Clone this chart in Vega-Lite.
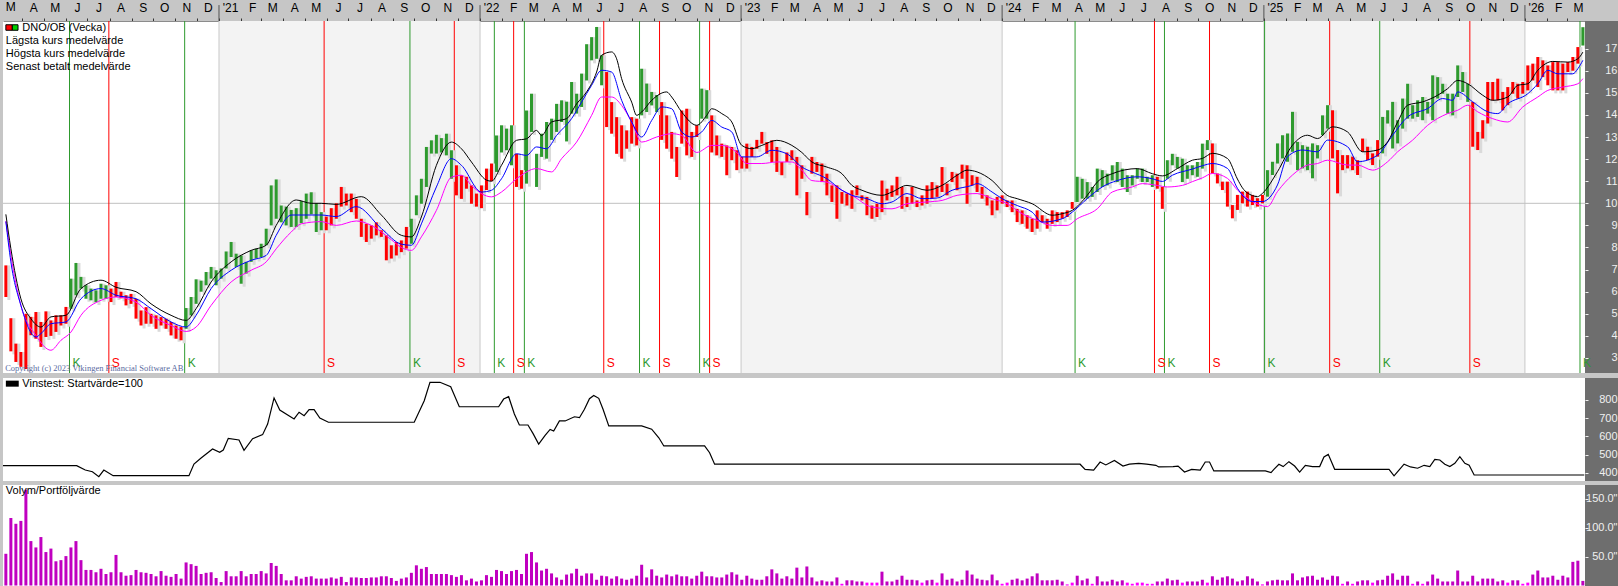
{
"$schema": "https://vega.github.io/schema/vega-lite/v6.json",
"background": "#c6c6c6",
"padding": {"left": 0, "top": 0, "right": 0, "bottom": 3},
"spacing": 3,
"config": {"view": {"stroke": null}, "font": "Liberation Sans"},
"resolve": {"scale": {"x": "independent", "y": "independent", "color": "independent"}},
"datasets": {
"bars": [
{"d":"2020-03-09","lo":5.76,"hi":7.19,"c":"r","v":55,"mh":9.5,"mc":9.17,"ml":9.2},
{"d":"2020-03-16","lo":3.3,"hi":4.8,"c":"r","v":117,"mh":7.95,"mc":7.35,"ml":7.65},
{"d":"2020-03-23","lo":2.82,"hi":3.65,"c":"r","v":107},
{"d":"2020-03-30","lo":2.6,"hi":3.27,"c":"r","v":112,"mh":5.68,"mc":5.38,"ml":5.38},
{"d":"2020-04-06","lo":2.5,"hi":5.0,"c":"r","v":166},
{"d":"2020-04-13","lo":4.03,"hi":4.86,"c":"r","v":77,"mh":4.78},
{"d":"2020-04-20","lo":3.87,"hi":5.08,"c":"r","v":66,"mc":3.95,"ml":4.02},
{"d":"2020-04-27","lo":3.5,"hi":4.63,"c":"r","v":84,"mh":4.4,"mc":4.1},
{"d":"2020-05-04","lo":3.95,"hi":5.11,"c":"r","v":58},
{"d":"2020-05-11","lo":4.0,"hi":4.7,"c":"r","v":64,"mh":4.86,"mc":4.55,"ml":3.35},
{"d":"2020-05-18","lo":4.18,"hi":4.93,"c":"r","v":42},
{"d":"2020-05-25","lo":4.47,"hi":4.93,"c":"r","v":44,"ml":3.8},
{"d":"2020-06-01","lo":4.55,"hi":5.31,"c":"r","v":51,"mh":4.93,"mc":4.63},
{"d":"2020-06-08","lo":5.23,"hi":6.59,"c":"g","v":66,"ml":4.17},
{"d":"2020-06-15","lo":5.84,"hi":7.3,"c":"g","v":77},
{"d":"2020-06-22","lo":6.14,"hi":6.67,"c":"g","v":44,"mh":6.14,"mc":5.68,"ml":4.93},
{"d":"2020-06-29","lo":5.68,"hi":6.29,"c":"g","v":27},
{"d":"2020-07-06","lo":5.61,"hi":6.14,"c":"g","v":27},
{"d":"2020-07-13","lo":5.53,"hi":6.06,"c":"g","v":23},
{"d":"2020-07-20","lo":5.68,"hi":6.36,"c":"g","v":29,"mh":6.52,"mc":6.14,"ml":5.61},
{"d":"2020-07-27","lo":5.68,"hi":6.29,"c":"g","v":20},
{"d":"2020-08-03","lo":5.53,"hi":6.14,"c":"r","v":23},
{"d":"2020-08-10","lo":5.76,"hi":6.44,"c":"r","v":53,"mh":6.2,"mc":5.84,"ml":5.76},
{"d":"2020-08-17","lo":5.7,"hi":6.0,"c":"r","v":23},
{"d":"2020-08-24","lo":5.38,"hi":5.84,"c":"r","v":17},
{"d":"2020-08-31","lo":5.45,"hi":5.9,"c":"r","v":18},
{"d":"2020-09-07","lo":4.78,"hi":5.68,"c":"r","v":27,"mh":6.0,"mc":5.68,"ml":5.53},
{"d":"2020-09-14","lo":4.47,"hi":5.15,"c":"r","v":23},
{"d":"2020-09-21","lo":4.55,"hi":5.3,"c":"r","v":22},
{"d":"2020-09-28","lo":4.55,"hi":5.0,"c":"r","v":20,"mh":5.45,"mc":5.23,"ml":4.93},
{"d":"2020-10-05","lo":4.32,"hi":4.93,"c":"r","v":16},
{"d":"2020-10-12","lo":4.47,"hi":4.85,"c":"r","v":25},
{"d":"2020-10-19","lo":4.32,"hi":4.78,"c":"r","v":17},
{"d":"2020-10-26","lo":4.02,"hi":4.63,"c":"r","v":15,"mh":4.93,"mc":4.63,"ml":4.47},
{"d":"2020-11-02","lo":3.87,"hi":4.47,"c":"r","v":20},
{"d":"2020-11-09","lo":3.8,"hi":4.4,"c":"r","v":12},
{"d":"2020-11-16","lo":4.32,"hi":5.26,"c":"g","v":40,"mh":4.7,"mc":4.4,"ml":4.2},
{"d":"2020-11-23","lo":4.93,"hi":5.76,"c":"g","v":37},
{"d":"2020-11-30","lo":5.45,"hi":6.56,"c":"g","v":34,"mh":5.23,"mc":4.93,"ml":4.4},
{"d":"2020-12-07","lo":6.0,"hi":6.5,"c":"g","v":20},
{"d":"2020-12-14","lo":6.29,"hi":6.89,"c":"g","v":22},
{"d":"2020-12-21","lo":6.59,"hi":7.12,"c":"g","v":23,"mh":6.44,"mc":6.14,"ml":5.38},
{"d":"2020-12-28","lo":6.29,"hi":6.97,"c":"g","v":13},
{"d":"2021-01-04","lo":6.59,"hi":7.05,"c":"g","v":6},
{"d":"2021-01-11","lo":7.05,"hi":7.82,"c":"g","v":25},
{"d":"2021-01-18","lo":7.57,"hi":8.25,"c":"g","v":16,"mh":7.35,"mc":6.97,"ml":6.44},
{"d":"2021-01-25","lo":7.12,"hi":7.72,"c":"g","v":16},
{"d":"2021-02-01","lo":6.36,"hi":7.64,"c":"g","v":25},
{"d":"2021-02-08","lo":6.82,"hi":7.35,"c":"g","v":16},
{"d":"2021-02-15","lo":7.35,"hi":7.87,"c":"g","v":20,"mh":7.87,"mc":7.42,"ml":6.97},
{"d":"2021-02-22","lo":7.5,"hi":7.94,"c":"g","v":20},
{"d":"2021-03-01","lo":7.57,"hi":8.17,"c":"g","v":25},
{"d":"2021-03-08","lo":8.1,"hi":8.85,"c":"g","v":21,"mh":8.1,"mc":7.64,"ml":7.35},
{"d":"2021-03-15","lo":9.0,"hi":10.81,"c":"g","v":39},
{"d":"2021-03-22","lo":9.3,"hi":11.08,"c":"g","v":34,"mh":9.0,"mc":8.55,"ml":7.94},
{"d":"2021-03-29","lo":9.14,"hi":9.9,"c":"g","v":20},
{"d":"2021-04-05","lo":9.0,"hi":9.85,"c":"g","v":9},
{"d":"2021-04-12","lo":8.93,"hi":9.7,"c":"g","v":9,"mc":9.47,"ml":8.7},
{"d":"2021-04-19","lo":8.93,"hi":9.78,"c":"g","v":16,"mh":10.15},
{"d":"2021-04-26","lo":9.1,"hi":10.1,"c":"g","v":12,"mc":9.47,"ml":9.07},
{"d":"2021-05-03","lo":9.3,"hi":10.44,"c":"g","v":15},
{"d":"2021-05-10","lo":9.5,"hi":10.5,"c":"g","v":16,"mh":10.0},
{"d":"2021-05-17","lo":8.7,"hi":10.0,"c":"g","v":12},
{"d":"2021-05-24","lo":8.78,"hi":9.6,"c":"g","v":12,"mh":10.0,"mc":9.47,"ml":9.17},
{"d":"2021-05-31","lo":8.78,"hi":9.4,"c":"r","v":12},
{"d":"2021-06-07","lo":9.0,"hi":9.78,"c":"r","v":14},
{"d":"2021-06-14","lo":9.3,"hi":10.0,"c":"r","v":12,"mh":9.95,"mc":9.4,"ml":9.0},
{"d":"2021-06-21","lo":9.85,"hi":10.74,"c":"r","v":15},
{"d":"2021-06-28","lo":9.9,"hi":10.44,"c":"r","v":6},
{"d":"2021-07-05","lo":9.6,"hi":10.44,"c":"r","v":14},
{"d":"2021-07-12","lo":9.3,"hi":10.2,"c":"r","v":14,"mc":9.85,"ml":9.2},
{"d":"2021-07-19","lo":8.48,"hi":9.3,"c":"r","v":13,"mh":10.3},
{"d":"2021-07-26","lo":8.25,"hi":9.07,"c":"r","v":13},
{"d":"2021-08-02","lo":8.4,"hi":9.0,"c":"r","v":14,"ml":9.0},
{"d":"2021-08-09","lo":8.55,"hi":9.14,"c":"r","v":14},
{"d":"2021-08-16","lo":8.48,"hi":8.78,"c":"r","v":16,"mh":9.47,"mc":8.86},
{"d":"2021-08-23","lo":7.42,"hi":8.55,"c":"r","v":16},
{"d":"2021-08-30","lo":7.5,"hi":8.1,"c":"r","v":13,"ml":8.35},
{"d":"2021-09-06","lo":7.64,"hi":8.25,"c":"r","v":8},
{"d":"2021-09-13","lo":7.79,"hi":8.32,"c":"r","v":12,"mh":8.55,"mc":8.15,"ml":8.0},
{"d":"2021-09-20","lo":7.95,"hi":8.93,"c":"r","v":14},
{"d":"2021-09-27","lo":8.17,"hi":9.3,"c":"g","v":22,"mh":8.48,"mc":8.1,"ml":7.87},
{"d":"2021-10-04","lo":9.46,"hi":10.36,"c":"g","v":35},
{"d":"2021-10-11","lo":9.98,"hi":11.11,"c":"g","v":29,"mh":9.38,"mc":9.07,"ml":8.48},
{"d":"2021-10-18","lo":10.74,"hi":12.55,"c":"g","v":32},
{"d":"2021-10-25","lo":12.25,"hi":12.85,"c":"g","v":20},
{"d":"2021-11-01","lo":12.25,"hi":13.1,"c":"g","v":20,"mh":11.72,"mc":10.74,"ml":9.68},
{"d":"2021-11-08","lo":12.3,"hi":12.95,"c":"g","v":20},
{"d":"2021-11-15","lo":12.17,"hi":13.15,"c":"g","v":20},
{"d":"2021-11-22","lo":11.11,"hi":12.4,"c":"g","v":18,"mh":12.77,"mc":12.02,"ml":11.18},
{"d":"2021-11-29","lo":10.36,"hi":11.72,"c":"r","v":15},
{"d":"2021-12-06","lo":10.2,"hi":11.27,"c":"r","v":18,"mh":12.47,"mc":11.72,"ml":11.27},
{"d":"2021-12-13","lo":10.66,"hi":11.2,"c":"r","v":9},
{"d":"2021-12-20","lo":9.98,"hi":10.81,"c":"r","v":12,"mh":11.87,"ml":10.81},
{"d":"2021-12-27","lo":9.85,"hi":10.44,"c":"r","v":7},
{"d":"2022-01-03","lo":9.78,"hi":10.81,"c":"r","v":9,"mc":10.51,"ml":10.44},
{"d":"2022-01-10","lo":10.6,"hi":11.57,"c":"r","v":18,"mh":11.05},
{"d":"2022-01-17","lo":11.0,"hi":11.8,"c":"r","v":15,"mh":11.0,"mc":10.59,"ml":10.29},
{"d":"2022-01-24","lo":11.42,"hi":13.07,"c":"g","v":27},
{"d":"2022-01-31","lo":12.3,"hi":13.53,"c":"g","v":25,"mh":11.72,"mc":11.11,"ml":10.51},
{"d":"2022-02-07","lo":12.4,"hi":13.38,"c":"g","v":20},
{"d":"2022-02-14","lo":11.72,"hi":13.53,"c":"g","v":25},
{"d":"2022-02-21","lo":10.74,"hi":12.24,"c":"r","v":27,"mh":12.85,"mc":12.24,"ml":11.11},
{"d":"2022-02-28","lo":10.66,"hi":11.5,"c":"r","v":20},
{"d":"2022-03-07","lo":10.89,"hi":14.2,"c":"g","v":55,"mh":12.92,"mc":12.17},
{"d":"2022-03-14","lo":13.23,"hi":14.96,"c":"g","v":58},
{"d":"2022-03-21","lo":10.74,"hi":12.24,"c":"g","v":40,"mh":13.3,"mc":12.55,"ml":11.57},
{"d":"2022-03-28","lo":12.1,"hi":13.15,"c":"g","v":26,"mh":13.07},
{"d":"2022-04-04","lo":12.02,"hi":13.68,"c":"g","v":29,"mc":12.47},
{"d":"2022-04-11","lo":12.87,"hi":13.83,"c":"g","v":21,"mh":13.68,"ml":11.42},
{"d":"2022-04-18","lo":13.23,"hi":14.5,"c":"g","v":14,"mc":13.07},
{"d":"2022-04-25","lo":13.68,"hi":14.66,"c":"g","v":10,"ml":12.02},
{"d":"2022-05-02","lo":12.8,"hi":14.6,"c":"g","v":19,"mh":13.83},
{"d":"2022-05-09","lo":14.06,"hi":15.49,"c":"g","v":21,"mc":13.83},
{"d":"2022-05-16","lo":14.06,"hi":14.96,"c":"g","v":29,"mh":14.5,"ml":12.77},
{"d":"2022-05-23","lo":14.36,"hi":15.87,"c":"g","v":17,"mc":14.58},
{"d":"2022-05-30","lo":15.56,"hi":17.2,"c":"g","v":21,"mh":15.04},
{"d":"2022-06-06","lo":16.47,"hi":17.52,"c":"g","v":21,"mc":15.34,"ml":13.98},
{"d":"2022-06-13","lo":16.54,"hi":17.98,"c":"g","v":10,"mh":15.94},
{"d":"2022-06-20","lo":15.34,"hi":16.7,"c":"g","v":17,"mh":16.7,"mc":16.02,"ml":14.81},
{"d":"2022-06-27","lo":13.45,"hi":15.94,"c":"r","v":16},
{"d":"2022-07-04","lo":13.15,"hi":14.58,"c":"r","v":12,"mh":16.85,"mc":15.94,"ml":14.81},
{"d":"2022-07-11","lo":12.24,"hi":13.9,"c":"r","v":16,"mh":16.54},
{"d":"2022-07-18","lo":12.02,"hi":13.53,"c":"r","v":12,"mh":15.64,"mc":14.66,"ml":14.43},
{"d":"2022-07-25","lo":12.47,"hi":13.3,"c":"r","v":10},
{"d":"2022-08-01","lo":12.7,"hi":13.9,"c":"r","v":12,"mh":14.58,"mc":13.68,"ml":13.68},
{"d":"2022-08-08","lo":12.62,"hi":13.83,"c":"r","v":17,"mh":13.98},
{"d":"2022-08-15","lo":13.98,"hi":16.09,"c":"g","v":36,"mh":14.13,"mc":13.0,"ml":12.77},
{"d":"2022-08-22","lo":14.13,"hi":15.42,"c":"g","v":14},
{"d":"2022-08-29","lo":14.43,"hi":15.04,"c":"g","v":28,"mh":14.66,"mc":13.75},
{"d":"2022-09-05","lo":14.13,"hi":14.9,"c":"g","v":17,"ml":13.0},
{"d":"2022-09-12","lo":12.87,"hi":14.58,"c":"r","v":14,"mc":14.36},
{"d":"2022-09-19","lo":12.47,"hi":13.98,"c":"r","v":19,"mh":15.04},
{"d":"2022-09-26","lo":12.02,"hi":13.23,"c":"r","v":16,"mh":14.81,"mc":14.28,"ml":13.15},
{"d":"2022-10-03","lo":11.19,"hi":12.55,"c":"r","v":19},
{"d":"2022-10-10","lo":12.7,"hi":14.2,"c":"r","v":16,"mh":14.13,"mc":13.23,"ml":13.07},
{"d":"2022-10-17","lo":12.17,"hi":14.28,"c":"r","v":16},
{"d":"2022-10-24","lo":12.1,"hi":13.23,"c":"r","v":12,"mc":13.0},
{"d":"2022-10-31","lo":13.0,"hi":13.53,"c":"r","v":17,"mh":13.53,"ml":12.3},
{"d":"2022-11-07","lo":13.83,"hi":15.19,"c":"g","v":24,"mc":13.23},
{"d":"2022-11-14","lo":13.83,"hi":15.12,"c":"g","v":16,"mh":13.98},
{"d":"2022-11-21","lo":12.3,"hi":13.98,"c":"r","v":16,"mh":14.28,"mc":13.75,"ml":12.62},
{"d":"2022-11-28","lo":12.17,"hi":13.07,"c":"r","v":14},
{"d":"2022-12-05","lo":12.1,"hi":12.7,"c":"r","v":14,"mh":14.06,"mc":13.45,"ml":12.62},
{"d":"2022-12-12","lo":11.27,"hi":12.62,"c":"r","v":19},
{"d":"2022-12-19","lo":11.95,"hi":12.55,"c":"r","v":23,"mh":13.68,"mc":13.23},
{"d":"2022-12-26","lo":11.5,"hi":12.4,"c":"r","v":19,"ml":12.3},
{"d":"2023-01-02","lo":11.57,"hi":12.1,"c":"r","v":10,"mh":12.62,"mc":12.1},
{"d":"2023-01-09","lo":11.57,"hi":12.7,"c":"r","v":17,"ml":11.8},
{"d":"2023-01-16","lo":12.1,"hi":12.55,"c":"r","v":12,"mh":12.47},
{"d":"2023-01-23","lo":12.47,"hi":12.87,"c":"r","v":10,"mc":12.1},
{"d":"2023-01-30","lo":12.7,"hi":13.23,"c":"r","v":10,"mh":12.62,"ml":11.8},
{"d":"2023-02-06","lo":12.24,"hi":12.77,"c":"r","v":16},
{"d":"2023-02-13","lo":11.87,"hi":12.85,"c":"r","v":28,"mc":12.4},
{"d":"2023-02-20","lo":11.42,"hi":12.55,"c":"r","v":21,"mh":12.85,"ml":11.87},
{"d":"2023-02-27","lo":11.27,"hi":11.87,"c":"r","v":12},
{"d":"2023-03-06","lo":11.87,"hi":12.3,"c":"r","v":16,"mc":12.24},
{"d":"2023-03-13","lo":11.95,"hi":12.4,"c":"r","v":12,"mh":12.62,"ml":11.87},
{"d":"2023-03-20","lo":10.36,"hi":12.1,"c":"r","v":31},
{"d":"2023-03-27","lo":11.11,"hi":11.72,"c":"r","v":14,"mh":12.3,"mc":11.64,"ml":11.5},
{"d":"2023-04-03","lo":9.46,"hi":10.51,"c":"r","v":33},
{"d":"2023-04-10","lo":11.34,"hi":12.1,"c":"r","v":14,"mh":11.87,"mc":11.42,"ml":11.03},
{"d":"2023-04-17","lo":11.42,"hi":11.87,"c":"r","v":7},
{"d":"2023-04-24","lo":10.96,"hi":11.8,"c":"r","v":9},
{"d":"2023-05-01","lo":10.36,"hi":11.34,"c":"r","v":7,"mh":11.64,"mc":11.11,"ml":10.96},
{"d":"2023-05-08","lo":10.06,"hi":10.81,"c":"r","v":7},
{"d":"2023-05-15","lo":9.3,"hi":10.81,"c":"r","v":14},
{"d":"2023-05-22","lo":9.98,"hi":10.51,"c":"r","v":3,"mh":11.34,"mc":10.59,"ml":10.59},
{"d":"2023-05-29","lo":9.9,"hi":10.44,"c":"r","v":9},
{"d":"2023-06-05","lo":9.75,"hi":10.59,"c":"r","v":9,"mh":10.81,"mc":10.36,"ml":10.36},
{"d":"2023-06-12","lo":10.36,"hi":10.81,"c":"r","v":7},
{"d":"2023-06-19","lo":10.13,"hi":10.36,"c":"r","v":7,"mh":10.59},
{"d":"2023-06-26","lo":9.46,"hi":10.29,"c":"r","v":5,"mc":10.21},
{"d":"2023-07-03","lo":9.3,"hi":9.9,"c":"r","v":5,"ml":9.83},
{"d":"2023-07-10","lo":9.38,"hi":9.98,"c":"r","v":5},
{"d":"2023-07-17","lo":9.6,"hi":11.03,"c":"r","v":24,"mh":10.36,"mc":9.98},
{"d":"2023-07-24","lo":10.13,"hi":10.66,"c":"r","v":7},
{"d":"2023-07-31","lo":10.29,"hi":10.81,"c":"r","v":7,"mh":10.51,"mc":10.06,"ml":9.75},
{"d":"2023-08-07","lo":10.36,"hi":11.2,"c":"r","v":10},
{"d":"2023-08-14","lo":9.75,"hi":10.74,"c":"r","v":17},
{"d":"2023-08-21","lo":9.83,"hi":10.29,"c":"r","v":10,"mh":10.81,"mc":10.44,"ml":9.98},
{"d":"2023-08-28","lo":9.98,"hi":10.74,"c":"r","v":10},
{"d":"2023-09-04","lo":9.83,"hi":10.13,"c":"r","v":9},
{"d":"2023-09-11","lo":9.9,"hi":10.36,"c":"r","v":5,"mc":10.21},
{"d":"2023-09-18","lo":9.98,"hi":10.81,"c":"r","v":9,"mh":10.59,"ml":10.06},
{"d":"2023-09-25","lo":10.21,"hi":10.96,"c":"r","v":10},
{"d":"2023-10-02","lo":10.29,"hi":10.81,"c":"r","v":5,"mc":10.24},
{"d":"2023-10-09","lo":10.51,"hi":11.64,"c":"r","v":21,"mh":10.81,"ml":10.13},
{"d":"2023-10-16","lo":10.36,"hi":10.89,"c":"r","v":10},
{"d":"2023-10-23","lo":10.96,"hi":11.42,"c":"r","v":12,"mc":10.59},
{"d":"2023-10-30","lo":10.59,"hi":11.34,"c":"r","v":7,"mh":11.27,"ml":10.36},
{"d":"2023-11-06","lo":11.11,"hi":11.75,"c":"r","v":10},
{"d":"2023-11-13","lo":9.98,"hi":11.72,"c":"r","v":26,"mh":11.5},
{"d":"2023-11-20","lo":10.81,"hi":11.27,"c":"r","v":19,"mc":10.81},
{"d":"2023-11-27","lo":10.51,"hi":11.2,"c":"r","v":12,"mh":11.42,"mc":10.89,"ml":10.44},
{"d":"2023-12-04","lo":10.21,"hi":10.74,"c":"r","v":10},
{"d":"2023-12-11","lo":9.9,"hi":10.36,"c":"r","v":9},
{"d":"2023-12-18","lo":9.46,"hi":10.13,"c":"r","v":19,"mh":11.03,"mc":10.51,"ml":10.21},
{"d":"2023-12-25","lo":9.68,"hi":10.29,"c":"r","v":9},
{"d":"2024-01-01","lo":9.98,"hi":10.36,"c":"r","v":3,"mc":10.21},
{"d":"2024-01-08","lo":9.83,"hi":10.13,"c":"r","v":5,"mh":10.36,"ml":9.98},
{"d":"2024-01-15","lo":9.6,"hi":10.13,"c":"r","v":10},
{"d":"2024-01-22","lo":9.15,"hi":9.75,"c":"r","v":12,"mh":10.21,"mc":9.9},
{"d":"2024-01-29","lo":9.07,"hi":9.68,"c":"r","v":9,"ml":9.53},
{"d":"2024-02-05","lo":8.85,"hi":9.46,"c":"r","v":12},
{"d":"2024-02-12","lo":8.7,"hi":9.3,"c":"r","v":16,"mh":9.98,"mc":9.6},
{"d":"2024-02-19","lo":8.85,"hi":9.68,"c":"r","v":21,"ml":9.23},
{"d":"2024-02-26","lo":9.15,"hi":9.46,"c":"r","v":9,"mc":9.15},
{"d":"2024-03-04","lo":8.85,"hi":9.3,"c":"r","v":9},
{"d":"2024-03-11","lo":9.07,"hi":9.68,"c":"r","v":9,"mh":9.46,"ml":9.0},
{"d":"2024-03-18","lo":9.15,"hi":9.6,"c":"r","v":10},
{"d":"2024-03-25","lo":9.3,"hi":9.6,"c":"r","v":7,"mh":9.53,"mc":9.3},
{"d":"2024-04-01","lo":9.38,"hi":9.68,"c":"r","v":2,"ml":9.0},
{"d":"2024-04-08","lo":9.75,"hi":10.06,"c":"r","v":5,"mh":9.68,"mc":9.6},
{"d":"2024-04-15","lo":10.06,"hi":11.2,"c":"g","v":17,"ml":9.3},
{"d":"2024-04-22","lo":10.21,"hi":11.11,"c":"g","v":9},
{"d":"2024-04-29","lo":10.21,"hi":10.96,"c":"g","v":12,"mh":10.36,"mc":10.21},
{"d":"2024-05-06","lo":10.29,"hi":10.74,"c":"g","v":3},
{"d":"2024-05-13","lo":10.51,"hi":11.57,"c":"g","v":16,"mh":10.96,"ml":9.75},
{"d":"2024-05-20","lo":10.74,"hi":11.5,"c":"g","v":7,"mc":10.74},
{"d":"2024-05-27","lo":10.81,"hi":11.34,"c":"g","v":7},
{"d":"2024-06-03","lo":11.03,"hi":11.72,"c":"g","v":10,"mh":11.34,"ml":10.51},
{"d":"2024-06-10","lo":10.96,"hi":11.87,"c":"g","v":7,"mc":11.03},
{"d":"2024-06-17","lo":10.74,"hi":11.57,"c":"g","v":9},
{"d":"2024-06-24","lo":10.51,"hi":11.27,"c":"g","v":5},
{"d":"2024-07-01","lo":10.81,"hi":11.27,"c":"g","v":3,"ml":10.74},
{"d":"2024-07-08","lo":11.11,"hi":11.57,"c":"g","v":5,"mh":11.57,"mc":11.2},
{"d":"2024-07-15","lo":10.96,"hi":11.57,"c":"g","v":5,"ml":10.89},
{"d":"2024-07-22","lo":10.96,"hi":11.2,"c":"g","v":3},
{"d":"2024-07-29","lo":10.74,"hi":11.27,"c":"g","v":3,"mh":11.34,"mc":11.11},
{"d":"2024-08-05","lo":10.66,"hi":11.2,"c":"r","v":7,"ml":10.81},
{"d":"2024-08-12","lo":9.75,"hi":10.74,"c":"r","v":7,"mh":11.24,"mc":10.99},
{"d":"2024-08-19","lo":11.11,"hi":11.95,"c":"g","v":12,"ml":10.74},
{"d":"2024-08-26","lo":11.72,"hi":12.24,"c":"g","v":9,"mc":11.27},
{"d":"2024-09-02","lo":11.57,"hi":12.1,"c":"g","v":10,"mh":11.57},
{"d":"2024-09-09","lo":10.96,"hi":12.02,"c":"g","v":5,"ml":10.81},
{"d":"2024-09-16","lo":11.11,"hi":11.72,"c":"g","v":7},
{"d":"2024-09-23","lo":11.27,"hi":11.72,"c":"g","v":7,"mh":11.95,"mc":11.55,"ml":10.98},
{"d":"2024-09-30","lo":11.2,"hi":11.87,"c":"g","v":7},
{"d":"2024-10-07","lo":11.57,"hi":12.7,"c":"g","v":10,"mh":12.03,"mc":11.7,"ml":11.15},
{"d":"2024-10-14","lo":12.41,"hi":12.86,"c":"g","v":5},
{"d":"2024-10-21","lo":11.35,"hi":12.71,"c":"r","v":16,"mh":12.26,"mc":11.8,"ml":11.35},
{"d":"2024-10-28","lo":10.9,"hi":11.35,"c":"r","v":10},
{"d":"2024-11-04","lo":10.6,"hi":10.98,"c":"r","v":14},
{"d":"2024-11-11","lo":9.85,"hi":10.98,"c":"r","v":16,"mh":12.03,"mc":11.58,"ml":11.13},
{"d":"2024-11-18","lo":9.32,"hi":9.92,"c":"r","v":12},
{"d":"2024-11-25","lo":9.7,"hi":10.38,"c":"r","v":7,"mh":11.1,"mc":10.68,"ml":10.6},
{"d":"2024-12-02","lo":10.0,"hi":10.53,"c":"r","v":9,"mh":10.7},
{"d":"2024-12-09","lo":9.85,"hi":10.53,"c":"r","v":16},
{"d":"2024-12-16","lo":9.92,"hi":10.38,"c":"r","v":12,"mh":10.35,"mc":10.08,"ml":10.08},
{"d":"2024-12-23","lo":9.85,"hi":10.23,"c":"r","v":7,"mh":10.3},
{"d":"2024-12-30","lo":10.0,"hi":10.38,"c":"r","v":2,"mh":10.45,"mc":10.08},
{"d":"2025-01-06","lo":10.3,"hi":11.5,"c":"g","v":7,"ml":9.85},
{"d":"2025-01-13","lo":11.28,"hi":11.88,"c":"g","v":9},
{"d":"2025-01-20","lo":11.8,"hi":12.71,"c":"g","v":10,"mh":11.43,"mc":10.83,"ml":10.53},
{"d":"2025-01-27","lo":12.03,"hi":13.08,"c":"g","v":9},
{"d":"2025-02-03","lo":11.88,"hi":13.16,"c":"g","v":9,"mc":12.11},
{"d":"2025-02-10","lo":12.33,"hi":14.14,"c":"g","v":21,"mh":12.63,"ml":11.28},
{"d":"2025-02-17","lo":11.5,"hi":12.78,"c":"g","v":9},
{"d":"2025-02-24","lo":11.58,"hi":12.63,"c":"g","v":14,"mc":12.41},
{"d":"2025-03-03","lo":11.5,"hi":12.56,"c":"g","v":16,"mh":13.08,"ml":11.73},
{"d":"2025-03-10","lo":11.13,"hi":12.71,"c":"g","v":17},
{"d":"2025-03-17","lo":12.03,"hi":12.63,"c":"g","v":10,"mh":12.93,"mc":12.33,"ml":11.8},
{"d":"2025-03-24","lo":13.08,"hi":13.98,"c":"g","v":14},
{"d":"2025-03-31","lo":13.38,"hi":14.44,"c":"g","v":10,"mc":12.86,"ml":11.95},
{"d":"2025-04-07","lo":12.03,"hi":14.21,"c":"r","v":17,"mh":13.46},
{"d":"2025-04-14","lo":10.45,"hi":12.41,"c":"r","v":16},
{"d":"2025-04-21","lo":11.5,"hi":12.18,"c":"r","v":3},
{"d":"2025-04-28","lo":11.58,"hi":12.18,"c":"r","v":7,"mh":13.23,"mc":12.56,"ml":11.73},
{"d":"2025-05-05","lo":11.5,"hi":12.11,"c":"r","v":3},
{"d":"2025-05-12","lo":11.28,"hi":11.95,"c":"r","v":7,"mc":11.88,"ml":11.73},
{"d":"2025-05-19","lo":12.33,"hi":12.93,"c":"r","v":9,"mh":12.33},
{"d":"2025-05-26","lo":11.95,"hi":12.56,"c":"r","v":9},
{"d":"2025-06-02","lo":11.73,"hi":12.26,"c":"r","v":5,"ml":11.5},
{"d":"2025-06-09","lo":12.11,"hi":12.86,"c":"r","v":9,"mh":12.41,"mc":12.18},
{"d":"2025-06-16","lo":12.26,"hi":13.91,"c":"g","v":10},
{"d":"2025-06-23","lo":13.61,"hi":14.21,"c":"g","v":17,"mh":12.78,"ml":11.88},
{"d":"2025-06-30","lo":12.48,"hi":14.59,"c":"g","v":21,"mc":13.08},
{"d":"2025-07-07","lo":12.71,"hi":13.76,"c":"g","v":10,"mh":13.68,"ml":12.33},
{"d":"2025-07-14","lo":13.38,"hi":14.74,"c":"g","v":17},
{"d":"2025-07-21","lo":13.83,"hi":15.41,"c":"g","v":17,"mh":14.44,"mc":13.91},
{"d":"2025-07-28","lo":13.83,"hi":14.44,"c":"g","v":3,"ml":12.86},
{"d":"2025-08-04","lo":13.91,"hi":14.66,"c":"g","v":7},
{"d":"2025-08-11","lo":13.76,"hi":14.81,"c":"g","v":3,"mh":14.59},
{"d":"2025-08-18","lo":14.06,"hi":14.59,"c":"g","v":7,"mc":14.29,"ml":13.53},
{"d":"2025-08-25","lo":13.76,"hi":15.79,"c":"g","v":19},
{"d":"2025-09-01","lo":14.74,"hi":15.71,"c":"g","v":12,"mh":14.89},
{"d":"2025-09-08","lo":14.96,"hi":15.41,"c":"g","v":7,"mc":14.74},
{"d":"2025-09-15","lo":14.06,"hi":14.96,"c":"g","v":7,"mh":15.19,"ml":14.06},
{"d":"2025-09-22","lo":13.98,"hi":14.96,"c":"g","v":7,"mc":14.66},
{"d":"2025-09-29","lo":14.81,"hi":16.24,"c":"g","v":26,"mh":15.56,"mc":15.04,"ml":14.21},
{"d":"2025-10-06","lo":15.04,"hi":15.94,"c":"g","v":7},
{"d":"2025-10-13","lo":14.59,"hi":15.41,"c":"g","v":7,"mh":15.41,"ml":14.44},
{"d":"2025-10-20","lo":12.56,"hi":14.59,"c":"r","v":17,"mc":14.59},
{"d":"2025-10-27","lo":12.41,"hi":13.23,"c":"r","v":7,"ml":14.14},
{"d":"2025-11-03","lo":12.93,"hi":13.76,"c":"r","v":12,"mh":14.89},
{"d":"2025-11-10","lo":13.61,"hi":15.49,"c":"r","v":12,"mc":14.14},
{"d":"2025-11-17","lo":14.66,"hi":15.49,"c":"r","v":12,"mh":14.66,"ml":13.83},
{"d":"2025-11-24","lo":14.66,"hi":15.64,"c":"r","v":7,"mc":14.06},
{"d":"2025-12-01","lo":14.21,"hi":15.04,"c":"r","v":9},
{"d":"2025-12-08","lo":14.44,"hi":15.26,"c":"r","v":5,"mh":14.81,"mc":14.5,"ml":13.68},
{"d":"2025-12-15","lo":14.96,"hi":15.49,"c":"r","v":9},
{"d":"2025-12-22","lo":14.74,"hi":15.41,"c":"r","v":9,"mh":15.34},
{"d":"2025-12-29","lo":14.96,"hi":15.49,"c":"r","v":3,"ml":14.36},
{"d":"2026-01-05","lo":15.11,"hi":16.24,"c":"r","v":5,"mh":15.41,"mc":14.96},
{"d":"2026-01-12","lo":15.56,"hi":16.32,"c":"r","v":19},
{"d":"2026-01-19","lo":15.26,"hi":16.62,"c":"r","v":26,"mh":16.02,"mc":15.41,"ml":14.81},
{"d":"2026-01-26","lo":15.71,"hi":16.47,"c":"r","v":14},
{"d":"2026-02-02","lo":15.34,"hi":16.24,"c":"r","v":14,"mc":16.02,"ml":15.11},
{"d":"2026-02-09","lo":15.11,"hi":16.39,"c":"r","v":17,"mh":16.42},
{"d":"2026-02-16","lo":15.11,"hi":16.39,"c":"r","v":10,"mc":15.86},
{"d":"2026-02-23","lo":15.11,"hi":16.32,"c":"r","v":17,"ml":15.26},
{"d":"2026-03-02","lo":15.94,"hi":16.39,"c":"r","v":14,"mh":16.39},
{"d":"2026-03-09","lo":16.0,"hi":16.62,"c":"r","v":41,"mc":15.86},
{"d":"2026-03-16","lo":16.32,"hi":17.07,"c":"r","v":43,"mh":16.54,"mc":16.09,"ml":15.41},
{"d":"2026-03-23","lo":17.14,"hi":17.97,"c":"g","v":8,"mh":16.84,"mc":16.47,"ml":15.64}
],
"vinst": [
{"d":"2020-03-05","v":440},{"d":"2020-06-16","v":440},{"d":"2020-06-28","v":416},{"d":"2020-07-08","v":407},{"d":"2020-07-17","v":380},{"d":"2020-07-24","v":416},{"d":"2020-08-06","v":385},{"d":"2020-11-20","v":385},{"d":"2020-11-27","v":449},{"d":"2020-12-07","v":482},{"d":"2020-12-23","v":531},
{"d":"2021-01-02","v":513},{"d":"2021-01-07","v":526},{"d":"2021-01-14","v":590},{"d":"2021-01-29","v":581},{"d":"2021-02-05","v":524},{"d":"2021-02-17","v":588},{"d":"2021-03-03","v":610},{"d":"2021-03-10","v":668},{"d":"2021-03-19","v":811},{"d":"2021-03-27","v":745},{"d":"2021-04-16","v":696},{"d":"2021-04-23","v":733},{"d":"2021-04-30","v":714},{"d":"2021-05-07","v":747},{"d":"2021-05-14","v":747},{"d":"2021-05-22","v":701},{"d":"2021-06-03","v":678},{"d":"2021-10-01","v":678},{"d":"2021-10-15","v":796},{"d":"2021-10-23","v":897},{"d":"2021-11-06","v":897},{"d":"2021-11-21","v":873},{"d":"2021-12-03","v":763},
{"d":"2022-01-27","v":763},{"d":"2022-02-03","v":805},{"d":"2022-02-10","v":818},{"d":"2022-02-18","v":723},{"d":"2022-02-25","v":663},{"d":"2022-03-09","v":663},{"d":"2022-03-16","v":617},{"d":"2022-03-24","v":558},{"d":"2022-04-02","v":606},{"d":"2022-04-09","v":639},{"d":"2022-04-14","v":630},{"d":"2022-04-22","v":685},{"d":"2022-04-30","v":685},{"d":"2022-05-13","v":708},{"d":"2022-05-20","v":703},{"d":"2022-05-27","v":749},{"d":"2022-06-03","v":807},{"d":"2022-06-09","v":825},{"d":"2022-06-16","v":809},{"d":"2022-06-22","v":749},{"d":"2022-06-30","v":658},{"d":"2022-08-15","v":658},{"d":"2022-08-29","v":640},{"d":"2022-09-08","v":593},{"d":"2022-09-15","v":548},{"d":"2022-11-11","v":548},{"d":"2022-11-18","v":511},{"d":"2022-11-25","v":448},
{"d":"2024-04-19","v":448},{"d":"2024-04-26","v":420},{"d":"2024-05-08","v":416},{"d":"2024-05-17","v":460},{"d":"2024-05-25","v":444},{"d":"2024-06-06","v":469},{"d":"2024-06-18","v":438},{"d":"2024-06-27","v":448},{"d":"2024-07-10","v":453},{"d":"2024-07-21","v":448},{"d":"2024-08-03","v":442},{"d":"2024-08-07","v":433},{"d":"2024-08-27","v":435},{"d":"2024-09-03","v":438},{"d":"2024-09-12","v":405},{"d":"2024-09-22","v":420},{"d":"2024-10-04","v":416},{"d":"2024-10-11","v":460},{"d":"2024-10-17","v":460},{"d":"2024-10-23","v":411},
{"d":"2025-01-03","v":411},{"d":"2025-01-11","v":402},{"d":"2025-01-15","v":420},{"d":"2025-01-22","v":448},{"d":"2025-01-28","v":435},{"d":"2025-02-05","v":462},{"d":"2025-02-13","v":438},{"d":"2025-02-20","v":405},{"d":"2025-02-28","v":442},{"d":"2025-03-10","v":435},{"d":"2025-03-20","v":435},{"d":"2025-03-26","v":488},{"d":"2025-04-01","v":502},{"d":"2025-04-10","v":420},{"d":"2025-06-25","v":420},{"d":"2025-07-02","v":384},{"d":"2025-07-08","v":411},{"d":"2025-07-16","v":448},{"d":"2025-07-25","v":433},{"d":"2025-08-04","v":426},{"d":"2025-08-13","v":442},{"d":"2025-08-21","v":435},{"d":"2025-08-28","v":475},{"d":"2025-09-04","v":471},{"d":"2025-09-11","v":448},{"d":"2025-09-18","v":435},{"d":"2025-09-25","v":453},{"d":"2025-10-02","v":489},{"d":"2025-10-09","v":453},{"d":"2025-10-15","v":442},{"d":"2025-10-22","v":389},{"d":"2026-03-25","v":389}
],
"sig": [
{"d":"2020-06-06","c":"g","t":"K"},{"d":"2020-07-31","c":"r","t":"S"},{"d":"2020-11-14","c":"g","t":"K"},{"d":"2021-05-28","c":"r","t":"S"},{"d":"2021-09-25","c":"g","t":"K"},{"d":"2021-11-26","c":"r","t":"S"},{"d":"2022-01-21","c":"g","t":"K"},{"d":"2022-02-17","c":"r","t":"S"},{"d":"2022-03-04","c":"g","t":"K"},{"d":"2022-06-23","c":"r","t":"S"},{"d":"2022-08-12","c":"g","t":"K"},{"d":"2022-09-09","c":"r","t":"S"},{"d":"2022-11-04","c":"g","t":"K"},{"d":"2022-11-18","c":"r","t":"S"},{"d":"2024-04-12","c":"g","t":"K"},{"d":"2024-08-01","c":"r","t":"S"},{"d":"2024-08-15","c":"g","t":"K"},{"d":"2024-10-17","c":"r","t":"S"},{"d":"2025-01-02","c":"g","t":"K"},{"d":"2025-04-03","c":"r","t":"S"},{"d":"2025-06-12","c":"g","t":"K"},{"d":"2025-10-16","c":"r","t":"S"},{"d":"2026-03-19","c":"g","t":"K"}
],
"strip": [{"d":"2026-03-26","d2":"2026-05-15T07:00:00Z"}],
"years": [{"d":"2021-01-01"},{"d":"2022-01-01"},{"d":"2023-01-01"},{"d":"2024-01-01"},{"d":"2025-01-01"},{"d":"2026-01-01"}]
},
"vconcat": [
{
"width": 1582, "height": 352,
"view": {"fill": "#ffffff", "stroke": null},
"encoding": {
 "x": {"field": "d", "type": "temporal",
  "scale": {"type": "utc", "domain": [{"year":2020,"month":3,"date":5,"utc":true},{"year":2026,"month":3,"date":26,"utc":true}]},
  "axis": {"orient": "top", "title": null, "grid": false, "tickCount": {"interval": "month", "step": 1}, "tickSize": 3, "tickColor": "#333333",
    "domainColor": "#8c8c8c",
    "labelExpr": "utcmonth(datum.value) == 0 ? \"'\" + utcFormat(datum.value, '%y') : slice(utcFormat(datum.value, '%b'), 0, 1)",
    "labelAlign": "center", "labelOffset": 11, "labelPadding": 4, "labelFontSize": 12, "labelFont": "Liberation Sans", "labelColor": "#000000", "labelOverlap": false, "labelFlush": false}}
},
"layer": [
{"data": {"values": [{"d":"2021-01-01","d2":"2022-01-01"},{"d":"2023-01-01","d2":"2024-01-01"},{"d":"2025-01-01","d2":"2026-01-01"}]},
 "mark": {"type": "rect", "color": "#f3f3f3"},
 "encoding": {"x2": {"field": "d2"},
  "y": {"datum": 2.32, "type": "quantitative", "scale": {"domain": [2.32, 18.25], "nice": false, "zero": false},
   "axis": {"orient": "right", "values": [3,4,5,6,7,8,9,10,11,12,13,14,15,16,17], "title": null, "grid": false, "domain": false, "tickSize": 3, "tickColor": "#f0f0f0", "labelColor": "#f0f0f0", "labelAlign": "right", "labelPadding": 29, "labelFontSize": 11, "labelFont": "Liberation Sans", "labelBaseline": "middle", "labelFlush": false, "labelOverlap": false, "zindex": 2}},
  "y2": {"datum": 18.25}}},
{"data": {"name": "years"},
 "mark": {"type": "rule", "color": "#c8c8c8", "strokeWidth": 1},
 "encoding": {
  "y": {"datum": 2.32, "type": "quantitative", "scale": {"domain": [2.32, 18.25], "nice": false, "zero": false},
   "axis": {"orient": "right", "values": [3,4,5,6,7,8,9,10,11,12,13,14,15,16,17], "title": null, "grid": false, "domain": false, "tickSize": 3, "tickColor": "#f0f0f0", "labelColor": "#f0f0f0", "labelAlign": "right", "labelPadding": 29, "labelFontSize": 11, "labelFont": "Liberation Sans", "labelBaseline": "middle", "labelFlush": false, "labelOverlap": false, "zindex": 2}},
  "y2": {"datum": 18.25}}},
{"data": {"values": [{"d":"2020-03-05","d2":"2026-03-26"}]},
 "mark": {"type": "rule", "color": "#c0c0c0", "strokeWidth": 1},
 "encoding": {"x2": {"field": "d2"},
  "y": {"datum": 10, "type": "quantitative", "scale": {"domain": [2.32, 18.25], "nice": false, "zero": false},
   "axis": {"orient": "right", "values": [3,4,5,6,7,8,9,10,11,12,13,14,15,16,17], "title": null, "grid": false, "domain": false, "tickSize": 3, "tickColor": "#f0f0f0", "labelColor": "#f0f0f0", "labelAlign": "right", "labelPadding": 29, "labelFontSize": 11, "labelFont": "Liberation Sans", "labelBaseline": "middle", "labelFlush": false, "labelOverlap": false, "zindex": 2}}}},
{"data": {"name": "sig"},
 "mark": {"type": "rule", "strokeWidth": 1},
 "encoding": {
  "y": {"datum": 2.32, "type": "quantitative", "scale": {"domain": [2.32, 18.25], "nice": false, "zero": false},
   "axis": {"orient": "right", "values": [3,4,5,6,7,8,9,10,11,12,13,14,15,16,17], "title": null, "grid": false, "domain": false, "tickSize": 3, "tickColor": "#f0f0f0", "labelColor": "#f0f0f0", "labelAlign": "right", "labelPadding": 29, "labelFontSize": 11, "labelFont": "Liberation Sans", "labelBaseline": "middle", "labelFlush": false, "labelOverlap": false, "zindex": 2}},
  "y2": {"datum": 18.25},
  "color": {"field": "c", "type": "nominal", "scale": {"domain": ["g","r"], "range": ["#2e9a2e","#ff0000"]}, "legend": null}}},
{"data": {"name": "bars"},
 "mark": {"type": "rule", "strokeWidth": 3, "color": "#dadada", "xOffset": 3, "yOffset": 3},
 "encoding": {
  "y": {"field": "lo", "type": "quantitative", "scale": {"domain": [2.32, 18.25], "nice": false, "zero": false},
   "axis": {"orient": "right", "values": [3,4,5,6,7,8,9,10,11,12,13,14,15,16,17], "title": null, "grid": false, "domain": false, "tickSize": 3, "tickColor": "#f0f0f0", "labelColor": "#f0f0f0", "labelAlign": "right", "labelPadding": 29, "labelFontSize": 11, "labelFont": "Liberation Sans", "labelBaseline": "middle", "labelFlush": false, "labelOverlap": false, "zindex": 2}},
  "y2": {"field": "hi"}}},
{"data": {"name": "bars"},
 "mark": {"type": "rule", "strokeWidth": 3},
 "encoding": {
  "y": {"field": "lo", "type": "quantitative", "scale": {"domain": [2.32, 18.25], "nice": false, "zero": false},
   "axis": {"orient": "right", "values": [3,4,5,6,7,8,9,10,11,12,13,14,15,16,17], "title": null, "grid": false, "domain": false, "tickSize": 3, "tickColor": "#f0f0f0", "labelColor": "#f0f0f0", "labelAlign": "right", "labelPadding": 29, "labelFontSize": 11, "labelFont": "Liberation Sans", "labelBaseline": "middle", "labelFlush": false, "labelOverlap": false, "zindex": 2}},
  "y2": {"field": "hi"},
  "color": {"field": "c", "type": "nominal", "scale": {"domain": ["g","r"], "range": ["#3a983a","#c83232"]}, "legend": null}}},
{"data": {"name": "bars"}, "transform": [{"filter": "isValid(datum.ml)"}],
 "mark": {"type": "line", "color": "#ff00ff", "strokeWidth": 1, "interpolate": "monotone"},
 "encoding": {"y": {"field": "ml", "type": "quantitative", "scale": {"domain": [2.32, 18.25], "nice": false, "zero": false},
   "axis": {"orient": "right", "values": [3,4,5,6,7,8,9,10,11,12,13,14,15,16,17], "title": null, "grid": false, "domain": false, "tickSize": 3, "tickColor": "#f0f0f0", "labelColor": "#f0f0f0", "labelAlign": "right", "labelPadding": 29, "labelFontSize": 11, "labelFont": "Liberation Sans", "labelBaseline": "middle", "labelFlush": false, "labelOverlap": false, "zindex": 2}}}},
{"data": {"name": "bars"}, "transform": [{"filter": "isValid(datum.mc)"}],
 "mark": {"type": "line", "color": "#0000ff", "strokeWidth": 1, "interpolate": "monotone"},
 "encoding": {"y": {"field": "mc", "type": "quantitative", "scale": {"domain": [2.32, 18.25], "nice": false, "zero": false},
   "axis": {"orient": "right", "values": [3,4,5,6,7,8,9,10,11,12,13,14,15,16,17], "title": null, "grid": false, "domain": false, "tickSize": 3, "tickColor": "#f0f0f0", "labelColor": "#f0f0f0", "labelAlign": "right", "labelPadding": 29, "labelFontSize": 11, "labelFont": "Liberation Sans", "labelBaseline": "middle", "labelFlush": false, "labelOverlap": false, "zindex": 2}}}},
{"data": {"name": "bars"}, "transform": [{"filter": "isValid(datum.mh)"}],
 "mark": {"type": "line", "color": "#000000", "strokeWidth": 1, "interpolate": "monotone"},
 "encoding": {"y": {"field": "mh", "type": "quantitative", "scale": {"domain": [2.32, 18.25], "nice": false, "zero": false},
   "axis": {"orient": "right", "values": [3,4,5,6,7,8,9,10,11,12,13,14,15,16,17], "title": null, "grid": false, "domain": false, "tickSize": 3, "tickColor": "#f0f0f0", "labelColor": "#f0f0f0", "labelAlign": "right", "labelPadding": 29, "labelFontSize": 11, "labelFont": "Liberation Sans", "labelBaseline": "middle", "labelFlush": false, "labelOverlap": false, "zindex": 2}}}},
{"data": {"name": "strip"},
 "mark": {"type": "rect", "color": "#6e6e6e"},
 "encoding": {"x2": {"field": "d2"},
  "y": {"datum": 2.32, "type": "quantitative", "scale": {"domain": [2.32, 18.25], "nice": false, "zero": false},
   "axis": {"orient": "right", "values": [3,4,5,6,7,8,9,10,11,12,13,14,15,16,17], "title": null, "grid": false, "domain": false, "tickSize": 3, "tickColor": "#f0f0f0", "labelColor": "#f0f0f0", "labelAlign": "right", "labelPadding": 29, "labelFontSize": 11, "labelFont": "Liberation Sans", "labelBaseline": "middle", "labelFlush": false, "labelOverlap": false, "zindex": 2}},
  "y2": {"datum": 18.25}}},
{"data": {"values": [{"d":"2020-03-09","d2":"2020-03-18","f":"r"},{"d":"2020-03-18","d2":"2020-03-26","f":"g"}]},
 "mark": {"type": "rect", "stroke": "#000000", "strokeWidth": 1},
 "encoding": {"x2": {"field": "d2"},
  "y": {"datum": 17.83, "type": "quantitative", "scale": {"domain": [2.32, 18.25], "nice": false, "zero": false},
   "axis": {"orient": "right", "values": [3,4,5,6,7,8,9,10,11,12,13,14,15,16,17], "title": null, "grid": false, "domain": false, "tickSize": 3, "tickColor": "#f0f0f0", "labelColor": "#f0f0f0", "labelAlign": "right", "labelPadding": 29, "labelFontSize": 11, "labelFont": "Liberation Sans", "labelBaseline": "middle", "labelFlush": false, "labelOverlap": false, "zindex": 2}},
  "y2": {"datum": 18.08},
  "fill": {"field": "f", "type": "nominal", "scale": {"domain": ["g","r"], "range": ["#00d000","#ff0000"]}, "legend": null}}},
{"data": {"values": [{"d":"2020-04-01","t":"DNO/OB (Vecka)"}]},
 "mark": {"type": "text", "align": "left", "baseline": "middle", "fontSize": 11, "font": "Liberation Sans", "color": "#000000"},
 "encoding": {"text": {"field": "t"},
  "y": {"datum": 17.93, "type": "quantitative", "scale": {"domain": [2.32, 18.25], "nice": false, "zero": false},
   "axis": {"orient": "right", "values": [3,4,5,6,7,8,9,10,11,12,13,14,15,16,17], "title": null, "grid": false, "domain": false, "tickSize": 3, "tickColor": "#f0f0f0", "labelColor": "#f0f0f0", "labelAlign": "right", "labelPadding": 29, "labelFontSize": 11, "labelFont": "Liberation Sans", "labelBaseline": "middle", "labelFlush": false, "labelOverlap": false, "zindex": 2}}}},
{"data": {"values": [{"d":"2020-03-09","t":["Lägsta kurs medelvärde","Högsta kurs medelvärde","Senast betalt medelvärde"]}]},
 "mark": {"type": "text", "align": "left", "baseline": "middle", "fontSize": 11, "lineHeight": 13, "font": "Liberation Sans", "color": "#000000"},
 "encoding": {"text": {"field": "t"},
  "y": {"datum": 17.34, "type": "quantitative", "scale": {"domain": [2.32, 18.25], "nice": false, "zero": false},
   "axis": {"orient": "right", "values": [3,4,5,6,7,8,9,10,11,12,13,14,15,16,17], "title": null, "grid": false, "domain": false, "tickSize": 3, "tickColor": "#f0f0f0", "labelColor": "#f0f0f0", "labelAlign": "right", "labelPadding": 29, "labelFontSize": 11, "labelFont": "Liberation Sans", "labelBaseline": "middle", "labelFlush": false, "labelOverlap": false, "zindex": 2}}}},
{"data": {"name": "sig"},
 "mark": {"type": "text", "align": "left", "baseline": "middle", "fontSize": 12, "font": "Liberation Sans", "dx": 3},
 "encoding": {"text": {"field": "t"},
  "y": {"datum": 2.77, "type": "quantitative", "scale": {"domain": [2.32, 18.25], "nice": false, "zero": false},
   "axis": {"orient": "right", "values": [3,4,5,6,7,8,9,10,11,12,13,14,15,16,17], "title": null, "grid": false, "domain": false, "tickSize": 3, "tickColor": "#f0f0f0", "labelColor": "#f0f0f0", "labelAlign": "right", "labelPadding": 29, "labelFontSize": 11, "labelFont": "Liberation Sans", "labelBaseline": "middle", "labelFlush": false, "labelOverlap": false, "zindex": 2}},
  "color": {"field": "c", "type": "nominal", "scale": {"domain": ["g","r"], "range": ["#2e9a2e","#ff0000"]}, "legend": null}}},
{"data": {"values": [{"d":"2020-03-08","t":"Copyright (c) 2023 Vikingen Financial Software AB"}]},
 "mark": {"type": "text", "align": "left", "baseline": "middle", "fontSize": 8.5, "font": "Liberation Serif", "color": "#5a6aa0"},
 "encoding": {"text": {"field": "t"},
  "y": {"datum": 2.55, "type": "quantitative", "scale": {"domain": [2.32, 18.25], "nice": false, "zero": false},
   "axis": {"orient": "right", "values": [3,4,5,6,7,8,9,10,11,12,13,14,15,16,17], "title": null, "grid": false, "domain": false, "tickSize": 3, "tickColor": "#f0f0f0", "labelColor": "#f0f0f0", "labelAlign": "right", "labelPadding": 29, "labelFontSize": 11, "labelFont": "Liberation Sans", "labelBaseline": "middle", "labelFlush": false, "labelOverlap": false, "zindex": 2}}}},
{"data": {"name": "years"},
 "mark": {"type": "rule", "color": "#505050", "strokeWidth": 1},
 "encoding": {
  "y": {"datum": 18.25, "type": "quantitative", "scale": {"domain": [2.32, 18.25], "nice": false, "zero": false},
   "axis": {"orient": "right", "values": [3,4,5,6,7,8,9,10,11,12,13,14,15,16,17], "title": null, "grid": false, "domain": false, "tickSize": 3, "tickColor": "#f0f0f0", "labelColor": "#f0f0f0", "labelAlign": "right", "labelPadding": 29, "labelFontSize": 11, "labelFont": "Liberation Sans", "labelBaseline": "middle", "labelFlush": false, "labelOverlap": false, "zindex": 2}},
  "y2": {"datum": 18.97}}},
{"data": {"values": [{"d":"2020-03-16","t":"M"}]},
 "mark": {"type": "text", "align": "center", "baseline": "bottom", "fontSize": 12, "font": "Liberation Sans", "color": "#000000"},
 "encoding": {"text": {"field": "t"},
  "y": {"datum": 18.567, "type": "quantitative", "scale": {"domain": [2.32, 18.25], "nice": false, "zero": false},
   "axis": {"orient": "right", "values": [3,4,5,6,7,8,9,10,11,12,13,14,15,16,17], "title": null, "grid": false, "domain": false, "tickSize": 3, "tickColor": "#f0f0f0", "labelColor": "#f0f0f0", "labelAlign": "right", "labelPadding": 29, "labelFontSize": 11, "labelFont": "Liberation Sans", "labelBaseline": "middle", "labelFlush": false, "labelOverlap": false, "zindex": 2}}}}
]
},
{
"width": 1582, "height": 103,
"view": {"fill": "#ffffff", "stroke": null},
"encoding": {
 "x": {"field": "d", "type": "temporal",
  "scale": {"type": "utc", "domain": [{"year":2020,"month":3,"date":5,"utc":true},{"year":2026,"month":3,"date":26,"utc":true}]}, "axis": null}
},
"layer": [
{"data": {"name": "strip"},
 "mark": {"type": "rect", "color": "#6e6e6e"},
 "encoding": {"x2": {"field": "d2"},
  "y": {"datum": 356, "type": "quantitative", "scale": {"domain": [356, 920.5], "nice": false, "zero": false},
   "axis": {"orient": "right", "values": [400,500,600,700,800], "title": null, "grid": false, "domain": false, "tickSize": 3, "tickColor": "#f0f0f0", "labelColor": "#f0f0f0", "labelAlign": "right", "labelPadding": 29, "labelFontSize": 11, "labelFont": "Liberation Sans", "labelBaseline": "middle", "labelFlush": false, "labelOverlap": false, "zindex": 2}},
  "y2": {"datum": 920.5}}},
{"data": {"name": "vinst"},
 "mark": {"type": "line", "color": "#000000", "strokeWidth": 1.2},
 "encoding": {
  "y": {"field": "v", "type": "quantitative", "scale": {"domain": [356, 920.5], "nice": false, "zero": false},
   "axis": {"orient": "right", "values": [400,500,600,700,800], "title": null, "grid": false, "domain": false, "tickSize": 3, "tickColor": "#f0f0f0", "labelColor": "#f0f0f0", "labelAlign": "right", "labelPadding": 29, "labelFontSize": 11, "labelFont": "Liberation Sans", "labelBaseline": "middle", "labelFlush": false, "labelOverlap": false, "zindex": 2}}}},
{"data": {"values": [{"d":"2020-03-09","d2":"2020-03-27"}]},
 "mark": {"type": "rect", "color": "#000000"},
 "encoding": {"x2": {"field": "d2"},
  "y": {"datum": 873, "type": "quantitative", "scale": {"domain": [356, 920.5], "nice": false, "zero": false},
   "axis": {"orient": "right", "values": [400,500,600,700,800], "title": null, "grid": false, "domain": false, "tickSize": 3, "tickColor": "#f0f0f0", "labelColor": "#f0f0f0", "labelAlign": "right", "labelPadding": 29, "labelFontSize": 11, "labelFont": "Liberation Sans", "labelBaseline": "middle", "labelFlush": false, "labelOverlap": false, "zindex": 2}},
  "y2": {"datum": 906}}},
{"data": {"values": [{"d":"2020-04-01","t":"Vinstest: Startvärde=100"}]},
 "mark": {"type": "text", "align": "left", "baseline": "middle", "fontSize": 11, "font": "Liberation Sans", "color": "#000000"},
 "encoding": {"text": {"field": "t"},
  "y": {"datum": 888, "type": "quantitative", "scale": {"domain": [356, 920.5], "nice": false, "zero": false},
   "axis": {"orient": "right", "values": [400,500,600,700,800], "title": null, "grid": false, "domain": false, "tickSize": 3, "tickColor": "#f0f0f0", "labelColor": "#f0f0f0", "labelAlign": "right", "labelPadding": 29, "labelFontSize": 11, "labelFont": "Liberation Sans", "labelBaseline": "middle", "labelFlush": false, "labelOverlap": false, "zindex": 2}}}}
]
},
{
"width": 1582, "height": 103,
"view": {"fill": "#ffffff", "stroke": null},
"encoding": {
 "x": {"field": "d", "type": "temporal",
  "scale": {"type": "utc", "domain": [{"year":2020,"month":3,"date":5,"utc":true},{"year":2026,"month":3,"date":26,"utc":true}]}, "axis": null}
},
"layer": [
{"data": {"name": "strip"},
 "mark": {"type": "rect", "color": "#6e6e6e"},
 "encoding": {"x2": {"field": "d2"},
  "y": {"datum": -4.3, "type": "quantitative", "scale": {"domain": [-4.3, 174.2], "nice": false, "zero": false},
   "axis": {"orient": "right", "values": [50,100,150], "title": null, "grid": false, "domain": false, "tickSize": 3, "tickColor": "#f0f0f0", "labelColor": "#f0f0f0", "labelAlign": "right", "labelPadding": 29, "labelFontSize": 11, "labelFont": "Liberation Sans", "labelBaseline": "middle", "labelFlush": false, "labelOverlap": false, "zindex": 2, "labelExpr": "format(datum.value, '.1f') + '\"'"}},
  "y2": {"datum": 174.2}}},
{"data": {"name": "bars"},
 "mark": {"type": "rule", "strokeWidth": 3},
 "encoding": {
  "y": {"field": "v", "type": "quantitative", "scale": {"domain": [-4.3, 174.2], "nice": false, "zero": false},
   "axis": {"orient": "right", "values": [50,100,150], "title": null, "grid": false, "domain": false, "tickSize": 3, "tickColor": "#f0f0f0", "labelColor": "#f0f0f0", "labelAlign": "right", "labelPadding": 29, "labelFontSize": 11, "labelFont": "Liberation Sans", "labelBaseline": "middle", "labelFlush": false, "labelOverlap": false, "zindex": 2, "labelExpr": "format(datum.value, '.1f') + '\"'"}},
  "y2": {"datum": 0},
  "color": {"condition": {"test": "datum.v <= 5", "value": "#ff00ff"}, "value": "#c000c0"}}},
{"data": {"values": [{"d":"2020-03-09","t":"Volym/Portföljvärde"}]},
 "mark": {"type": "text", "align": "left", "baseline": "middle", "fontSize": 11, "font": "Liberation Sans", "color": "#000000"},
 "encoding": {"text": {"field": "t"},
  "y": {"datum": 164, "type": "quantitative", "scale": {"domain": [-4.3, 174.2], "nice": false, "zero": false},
   "axis": {"orient": "right", "values": [50,100,150], "title": null, "grid": false, "domain": false, "tickSize": 3, "tickColor": "#f0f0f0", "labelColor": "#f0f0f0", "labelAlign": "right", "labelPadding": 29, "labelFontSize": 11, "labelFont": "Liberation Sans", "labelBaseline": "middle", "labelFlush": false, "labelOverlap": false, "zindex": 2, "labelExpr": "format(datum.value, '.1f') + '\"'"}}}}
]
}
]
}
